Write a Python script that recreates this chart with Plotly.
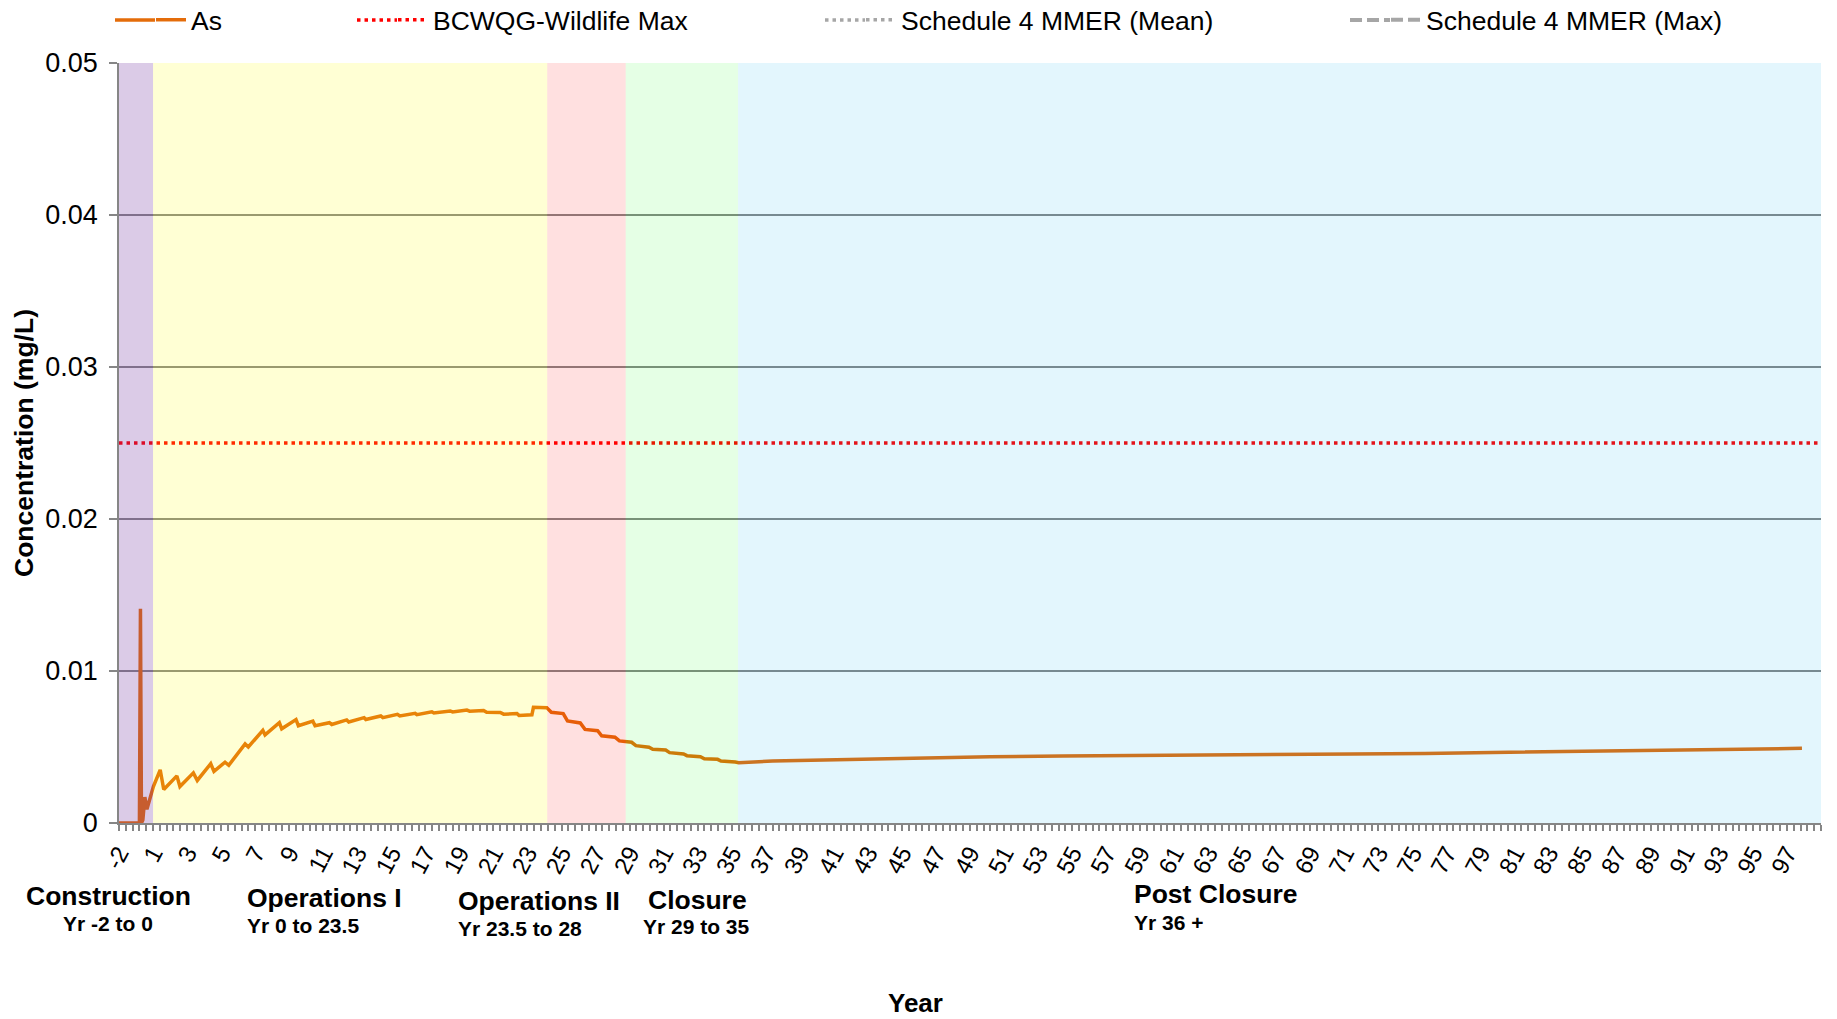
import plotly.graph_objects as go

# ---------------- data ----------------
phase_names = ["Construction", "Operations I", "Operations II", "Closure", "Post Closure"]
phase_sub = ["Yr -2 to 0", "Yr 0 to 23.5", "Yr 23.5 to 28", "Yr 29 to 35", "Yr 36 +"]
phase_start = [-2.0, 0.0, 23.16, 27.77, 34.37]
phase_end = [0.0, 23.16, 27.77, 34.37, 98.0]
phase_colors = ["#7030A0", "#FFFF00", "#FF0000", "#00FF00", "#00B0F0"]
phase_opacity = [0.25, 0.17, 0.12, 0.10, 0.11]

as_year = [-2.0, -0.80, -0.74, -0.68, -0.60, -0.48, -0.36, 0.02, 0.42, 0.63,
           1.40, 1.58, 2.37, 2.60, 3.39, 3.58, 4.23, 4.45, 5.41, 5.60,
           6.45, 6.58, 7.42, 7.56, 8.40, 8.54, 9.39, 9.52, 10.36, 10.50,
           11.38, 11.50, 12.40, 12.50, 13.38, 13.50, 14.36, 14.50, 15.40, 15.50,
           16.38, 16.50, 17.46, 17.60, 18.44, 18.60, 19.42, 19.60, 20.40, 20.60,
           21.38, 21.50, 22.26, 22.35, 23.13, 23.40, 24.10, 24.35, 25.10, 25.38,
           26.12, 26.36, 27.14, 27.40, 28.12, 28.37, 29.14, 29.36, 30.12, 30.35,
           31.17, 31.37, 32.16, 32.39, 33.17, 33.37, 34.21, 34.41, 36.40, 40.66,
           44.92, 49.17, 53.44, 57.69, 61.96, 66.22, 70.48, 74.74, 79.00, 83.25,
           87.52, 91.78, 96.88]
as_conc = [0.0, 0.0, 0.0141, 0.0, 0.0002, 0.0017, 0.0009, 0.0024, 0.0035, 0.0022,
           0.0031, 0.0024, 0.0033, 0.0028, 0.0039, 0.0034, 0.0040, 0.0038, 0.0052, 0.0050,
           0.0061, 0.0058, 0.0066, 0.0062, 0.0068, 0.0064, 0.0067, 0.0064, 0.0066, 0.00648,
           0.00678, 0.00665, 0.00693, 0.00681, 0.00704, 0.00693, 0.00715, 0.00704, 0.00722, 0.00713,
           0.00732, 0.00724, 0.00737, 0.00731, 0.00743, 0.00736, 0.00740, 0.00728, 0.00727, 0.00716,
           0.00720, 0.00708, 0.00712, 0.00761, 0.00759, 0.00728, 0.00720, 0.00672, 0.00658, 0.00616,
           0.00607, 0.00574, 0.00564, 0.00540, 0.00531, 0.00509, 0.00498, 0.00485, 0.00480, 0.00463,
           0.00454, 0.00443, 0.00436, 0.00423, 0.00419, 0.00408, 0.00401, 0.00397, 0.00408, 0.00419,
           0.00430, 0.00436, 0.00441, 0.00443, 0.00445, 0.00449, 0.00454, 0.00458, 0.00465, 0.00472,
           0.00478, 0.00485, 0.00491]

guideline_year = [-2.0, 98.0]
bcwqg_wildlife_max = [0.025, 0.025]
mmer_mean = [0.5, 0.5]
mmer_max = [1.0, 1.0]

tick_text = ["-2"] + [str(v) for v in range(1, 98, 2)]
tick_year = [-2.0] + [float(v - 1) for v in range(1, 98, 2)]

# ---------------- figure ----------------
W, H = 1837, 1019
PLOT_L, PLOT_R, PLOT_T, PLOT_B = 119, 1821, 63, 823   # page pixels
L, T, R, B = PLOT_L, PLOT_T, W - PLOT_R, H - PLOT_B
PW, PH = W - L - R, H - T - B

def px_x(px):
    return (px - L) / PW

def px_y(py):
    return (PLOT_B - py) / PH

FONT = "Liberation Sans, Arial, sans-serif"

series_styles = [
    ("As", as_year, as_conc, dict(color="#E46C0A", width=3.5)),
    ("BCWQG-Wildlife Max", guideline_year, bcwqg_wildlife_max,
     dict(color="#FF0000", width=3.5, dash="3.5px,4px")),
    ("Schedule 4 MMER (Mean)", guideline_year, mmer_mean,
     dict(color="#A6A6A6", width=3.5, dash="3.5px,4px")),
    ("Schedule 4 MMER (Max)", guideline_year, mmer_max,
     dict(color="#A6A6A6", width=4, dash="12px,5px")),
]

fig = go.Figure()
for i, (name, xs, ys, ln) in enumerate(series_styles):
    key = "legend" if i == 0 else "legend%d" % (i + 1)
    fig.add_trace(go.Scatter(x=xs, y=ys, mode="lines", name=name, line=ln, legend=key))

shapes = []
for s, e, c, o in zip(phase_start, phase_end, phase_colors, phase_opacity):
    shapes.append(dict(type="rect", xref="x", yref="y", x0=s, x1=e, y0=0, y1=0.05,
                       fillcolor=c, opacity=o, line=dict(width=0), layer="above"))

# legend: longer sample strokes as in the original
legend_text_x = [191, 433, 901, 1426]
LEG_Y = 20
for (name, xs, ys, ln), lx in zip(series_styles, legend_text_x):
    shapes.append(dict(type="line", xref="paper", yref="paper",
                       x0=px_x(lx - 76), x1=px_x(lx - 36), y0=px_y(LEG_Y), y1=px_y(LEG_Y),
                       line=ln))

annotations = []
title_pos = [(108, 896, "center"), (245, 898, "left"), (456, 901, "left"),
             (645.5, 900, "left"), (1132, 894, "left")]
sub_pos = [(108, 924, "center"), (245, 925.6, "left"), (456, 929, "left"),
           (641, 926.7, "left"), (1132, 922, "left")]
for name, sub, (tx, ty, ta), (sx, sy, sa) in zip(phase_names, phase_sub, title_pos, sub_pos):
    annotations.append(dict(text="<b>%s</b>" % name, xref="paper", yref="paper",
                            x=px_x(tx), y=px_y(ty), xanchor=ta, yanchor="middle",
                            showarrow=False, font=dict(family=FONT, size=26.5, color="black")))
    annotations.append(dict(text="<b>%s</b>" % sub, xref="paper", yref="paper",
                            x=px_x(sx), y=px_y(sy), xanchor=sa, yanchor="middle",
                            showarrow=False, font=dict(family=FONT, size=21, color="black")))
# x-axis title (offset from the plot centre in the original)
annotations.append(dict(text="<b>Year</b>", xref="paper", yref="paper",
                        x=px_x(915), y=px_y(1020), xanchor="center", yanchor="bottom",
                        showarrow=False, font=dict(family=FONT, size=26, color="black")))

leg_common = dict(orientation="h", xref="container", yref="container", yanchor="middle",
                  bgcolor="rgba(0,0,0,0)", font=dict(family=FONT, size=26.5, color="black"))
legends = {}
for i, lx in enumerate(legend_text_x):
    key = "legend" if i == 0 else "legend%d" % (i + 1)
    legends[key] = dict(leg_common, x=(lx - 40) / W, y=1 - LEG_Y / H)

fig.update_layout(
    width=W, height=H,
    margin=dict(l=L, r=R, t=T, b=B, autoexpand=False),
    paper_bgcolor="white", plot_bgcolor="white",
    showlegend=True,
    shapes=shapes,
    annotations=annotations,
    font=dict(family=FONT, color="black"),
    **legends,
)

fig.update_xaxes(
    range=[-2, 98], showgrid=False, zeroline=False, automargin=False,
    showline=True, linecolor="#868686", linewidth=1.5,
    tickmode="array", tickvals=tick_year, ticktext=tick_text,
    tickangle=-62, ticks="", tickfont=dict(family=FONT, size=24, color="black"),
    ticklabelstandoff=5,
    minor=dict(dtick=0.4, tick0=-2, ticks="outside", ticklen=6, tickcolor="#868686",
               tickwidth=1.5, showgrid=False),
)
fig.update_yaxes(
    range=[0, 0.05], dtick=0.01, tick0=0, automargin=False,
    showgrid=True, gridcolor="#868686", gridwidth=1.5, zeroline=False,
    showline=True, linecolor="#868686", linewidth=1.5,
    ticks="outside", ticklen=8, tickcolor="#868686", tickwidth=1.5,
    tickfont=dict(family=FONT, size=27, color="black"), ticklabelstandoff=6,
    title=dict(text="<b>Concentration (mg/L)</b>", font=dict(family=FONT, size=26.5, color="black"),
               standoff=4),
)

fig.write_html("out.html",
               config={"displayModeBar": False},
               post_script="document.body.style.margin='0px';"
                           "document.documentElement.style.overflow='hidden';")
